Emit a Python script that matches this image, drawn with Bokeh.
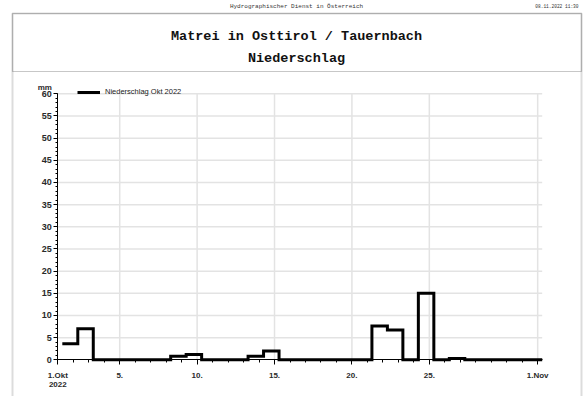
from bokeh.plotting import figure
from bokeh.models import (Range1d, FixedTicker, Legend, LegendItem, Label,
                          BoxAnnotation, LinearAxis)
from bokeh.embed import file_html
from bokeh.resources import INLINE

# Daily precipitation, October 2022 (mm), measured 07:00 to 07:00
days = list(range(1, 32))
precip = [3.6, 7.0, 0, 0, 0, 0, 0, 0.8, 1.2, 0,
          0, 0, 0.8, 2.0, 0, 0, 0, 0, 0, 0,
          7.6, 6.7, 0, 15.0, 0, 0.3, 0, 0, 0, 0, 0]

x_ticks = [1, 5, 10, 15, 20, 25, 32]
x_tick_labels = ["1.Okt\n2022", "5.", "10.", "15.", "20.", "25.", "1.Nov"]
y_ticks = list(range(0, 61, 5))

station = "Matrei in Osttirol / Tauernbach"
parameter = "Niederschlag"
series_name = "Niederschlag Okt 2022"
header = "Hydrographischer Dienst in Österreich"
stamp = "08.11.2022 11:30"

MONO = "Liberation Mono"
SANS = "Liberation Sans"

# each daily sum spans from 07:00 of its day to 07:00 of the next day
offset = 7 / 24
x_end = days[-1] + 1 + offset
xs = [d + offset for d in days] + [x_end]
ys = precip + [precip[-1]]
y_top = y_ticks[-1]

# The data frame fills the page; the visible ranges leave room around the
# chart for the title block and the page frame.
W, H = 585, 396
px_per_day = 484.4 / (x_end - 1)
px_per_mm = 266.0 / y_top
x0 = 1 - 57.3 / px_per_day
y1 = 359.3 / px_per_mm
p = figure(width=W, height=H, output_backend="svg", toolbar_location=None,
           x_range=Range1d(x0, x0 + W / px_per_day),
           y_range=Range1d(y1 - H / px_per_mm, y1),
           x_axis_location=None, y_axis_location=None,
           min_border=0, min_border_left=0, min_border_right=0,
           min_border_top=0, min_border_bottom=0)
p.outline_line_color = None
p.background_fill_color = "white"
p.border_fill_color = "white"
p.xgrid.visible = False
p.ygrid.visible = False

# grid lines limited to the chart area
grid_color = "#e3e3e3"
vx = x_ticks[1:]
p.segment(x0=vx, y0=[0] * len(vx), x1=vx, y1=[y_top] * len(vx),
          line_color=grid_color, line_width=1.5)
hy = y_ticks[1:]
p.segment(x0=[1] * len(hy), y0=hy, x1=[x_end] * len(hy), y1=hy,
          line_color=grid_color, line_width=1.5)

# x axis
xa = LinearAxis(fixed_location=0, bounds=(1, x_end))
xa.ticker = FixedTicker(ticks=x_ticks, minor_ticks=days + [32])
xa.major_label_overrides = {t: lab for t, lab in zip(x_ticks, x_tick_labels)}
xa.axis_line_color = "black"
xa.major_tick_in = 0
xa.major_tick_out = 5
xa.minor_tick_in = 0
xa.minor_tick_out = 3
xa.major_tick_line_color = "black"
xa.minor_tick_line_color = "black"
xa.major_label_standoff = 6
xa.major_label_text_font = SANS
xa.major_label_text_font_size = "8px"
xa.major_label_text_font_style = "bold"
xa.major_label_text_color = "#2a2a2a"
xa.major_label_text_line_height = 1.0
p.add_layout(xa, "below")

# y axis
ya = LinearAxis(fixed_location=1, bounds=(0, y_top))
ya.ticker = FixedTicker(ticks=y_ticks, minor_ticks=list(range(0, y_top + 1)))
ya.axis_line_color = "black"
ya.major_tick_in = 0
ya.major_tick_out = 4
ya.minor_tick_in = 0
ya.minor_tick_out = 2
ya.major_tick_line_color = "black"
ya.minor_tick_line_color = "black"
ya.major_label_standoff = 2
ya.major_label_text_font = SANS
ya.major_label_text_font_size = "9px"
ya.major_label_text_font_style = "bold"
ya.major_label_text_color = "#2a2a2a"
p.add_layout(ya, "left")

# precipitation step line
r = p.step(xs, ys, mode="after", line_color="black", line_width=3,
           line_join="miter")

legend = Legend(items=[LegendItem(label=series_name, renderers=[r])],
                location=(77, 300), orientation="horizontal",
                padding=0, margin=0, spacing=0,
                glyph_width=23, glyph_height=8, label_height=8,
                label_standoff=5, border_line_color=None,
                background_fill_alpha=0,
                label_text_font=SANS, label_text_font_size="7.5px",
                label_text_color="#222222")
p.add_layout(legend)

# unit label above the y axis
p.add_layout(Label(x=1, y=y_top, x_offset=-13, y_offset=6, text="mm",
                   text_font=SANS, text_font_size="8px",
                   text_font_style="bold", text_color="#2a2a2a",
                   text_align="center", text_baseline="middle"))

# page frame and title block
p.add_layout(BoxAnnotation(left=12, right=581, top=13, bottom=430,
                           left_units="canvas", right_units="canvas",
                           top_units="canvas", bottom_units="canvas",
                           fill_alpha=0, line_color="#8a8a8a", line_width=2))
p.add_layout(BoxAnnotation(left=12, right=581, top=13, bottom=71,
                           left_units="canvas", right_units="canvas",
                           top_units="canvas", bottom_units="canvas",
                           fill_alpha=0, line_color="#444444", line_width=1.2))

p.add_layout(Label(x=296, y=6, x_units="canvas", y_units="canvas",
                   text=header, text_font=MONO, text_font_size="6px",
                   text_color="#333333", text_align="center",
                   text_baseline="middle"))
p.add_layout(Label(x=578, y=6, x_units="canvas", y_units="canvas",
                   text=stamp, text_font=MONO, text_font_size="4.5px",
                   text_color="#333333", text_align="right",
                   text_baseline="middle"))
p.add_layout(Label(x=296, y=36, x_units="canvas", y_units="canvas",
                   text=station, text_font=MONO, text_font_size="13.5px",
                   text_font_style="bold", text_color="#111111",
                   text_align="center", text_baseline="middle"))
p.add_layout(Label(x=296, y=58, x_units="canvas", y_units="canvas",
                   text=parameter, text_font=MONO, text_font_size="13.5px",
                   text_font_style="bold", text_color="#111111",
                   text_align="center", text_baseline="middle"))

open("out.html", "w").write(file_html(p, INLINE))
